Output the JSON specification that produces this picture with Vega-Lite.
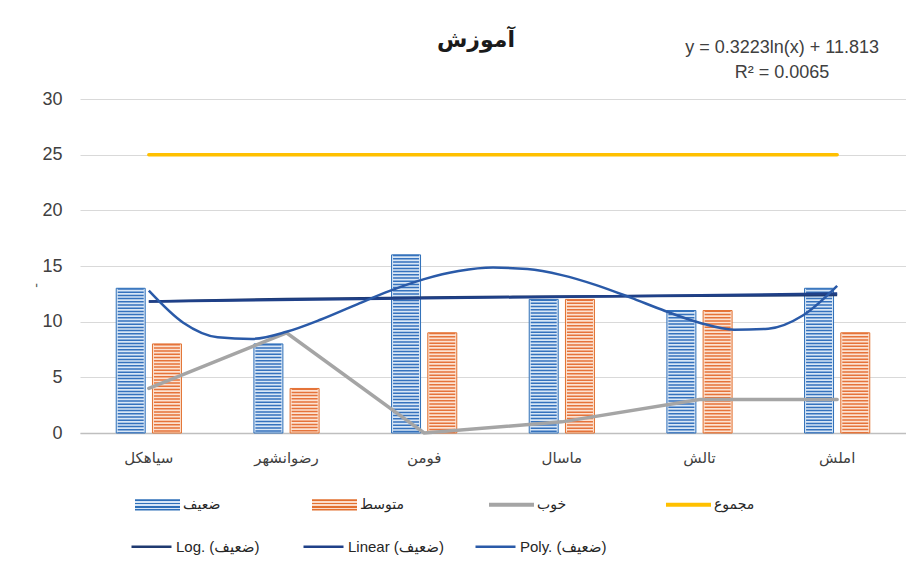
{
  "$schema": "https://vega.github.io/schema/vega-lite/v6.json",
  "width": 826,
  "height": 334,
  "autosize": {"type": "none"},
  "padding": {"left": 80, "top": 99, "right": 0, "bottom": 144},
  "background": "white",
  "title": {"text": "آموزش", "font": "DejaVu Sans", "fontSize": 22, "fontWeight": "bold", "color": "#1a1a1a", "frame": "group", "anchor": "middle", "dx": -17, "offset": -13},
  "config": {
    "view": {"stroke": null},
    "font": "Liberation Sans",
    "axisY": {"grid": true, "gridColor": "#d9d9d9", "gridWidth": 1, "domain": false, "ticks": false, "labelFont": "Liberation Sans", "labelFontSize": 18, "labelColor": "#404040", "labelPadding": 18, "titleFont": "Liberation Sans", "titleFontSize": 14, "titleFontWeight": "normal", "titleColor": "#595959", "titleX": -37, "titleY": 186},
    "axisX": {"grid": false, "domainColor": "#bfbfbf", "domainWidth": 1.5, "ticks": false, "labelFont": "DejaVu Sans", "labelFontSize": 15, "labelColor": "#404040", "labelPadding": 17, "labelAngle": 0}
  },
  "datasets": {
    "main": [
      {"city": "سیاهکل", "series": "ضعیف", "value": 13},
      {"city": "رضوانشهر", "series": "ضعیف", "value": 8},
      {"city": "فومن", "series": "ضعیف", "value": 16},
      {"city": "ماسال", "series": "ضعیف", "value": 12},
      {"city": "تالش", "series": "ضعیف", "value": 11},
      {"city": "املش", "series": "ضعیف", "value": 13},
      {"city": "سیاهکل", "series": "متوسط", "value": 8},
      {"city": "رضوانشهر", "series": "متوسط", "value": 4},
      {"city": "فومن", "series": "متوسط", "value": 9},
      {"city": "ماسال", "series": "متوسط", "value": 12},
      {"city": "تالش", "series": "متوسط", "value": 11},
      {"city": "املش", "series": "متوسط", "value": 9},
      {"city": "سیاهکل", "series": "خوب", "value": 4},
      {"city": "رضوانشهر", "series": "خوب", "value": 9},
      {"city": "فومن", "series": "خوب", "value": 0},
      {"city": "ماسال", "series": "خوب", "value": 1},
      {"city": "تالش", "series": "خوب", "value": 3},
      {"city": "املش", "series": "خوب", "value": 3},
      {"city": "سیاهکل", "series": "مجموع", "value": 25},
      {"city": "رضوانشهر", "series": "مجموع", "value": 25},
      {"city": "فومن", "series": "مجموع", "value": 25},
      {"city": "ماسال", "series": "مجموع", "value": 25},
      {"city": "تالش", "series": "مجموع", "value": 25},
      {"city": "املش", "series": "مجموع", "value": 25}
    ],
    "trend": [
      {"trend": "Log. (ضعیف)", "idx": 1, "val": 11.813},
      {"trend": "Log. (ضعیف)", "idx": 2, "val": 12.036},
      {"trend": "Log. (ضعیف)", "idx": 3, "val": 12.167},
      {"trend": "Log. (ضعیف)", "idx": 4, "val": 12.26},
      {"trend": "Log. (ضعیف)", "idx": 5, "val": 12.332},
      {"trend": "Log. (ضعیف)", "idx": 6, "val": 12.391},
      {"trend": "Linear (ضعیف)", "idx": 1, "val": 11.81},
      {"trend": "Linear (ضعیف)", "idx": 6, "val": 12.52},
      {"trend": "Poly. (ضعیف)", "idx": 1, "val": 12.782},
      {"trend": "Poly. (ضعیف)", "idx": 1.25, "val": 9.902},
      {"trend": "Poly. (ضعیف)", "idx": 1.5, "val": 8.598},
      {"trend": "Poly. (ضعیف)", "idx": 1.75, "val": 8.451},
      {"trend": "Poly. (ضعیف)", "idx": 2, "val": 9.091},
      {"trend": "Poly. (ضعیف)", "idx": 2.25, "val": 10.196},
      {"trend": "Poly. (ضعیف)", "idx": 2.5, "val": 11.493},
      {"trend": "Poly. (ضعیف)", "idx": 2.75, "val": 12.759},
      {"trend": "Poly. (ضعیف)", "idx": 3, "val": 13.817},
      {"trend": "Poly. (ضعیف)", "idx": 3.25, "val": 14.542},
      {"trend": "Poly. (ضعیف)", "idx": 3.5, "val": 14.855},
      {"trend": "Poly. (ضعیف)", "idx": 3.75, "val": 14.729},
      {"trend": "Poly. (ضعیف)", "idx": 4, "val": 14.183},
      {"trend": "Poly. (ضعیف)", "idx": 4.25, "val": 13.286},
      {"trend": "Poly. (ضعیف)", "idx": 4.5, "val": 12.156},
      {"trend": "Poly. (ضعیف)", "idx": 4.75, "val": 10.96},
      {"trend": "Poly. (ضعیف)", "idx": 5, "val": 9.909},
      {"trend": "Poly. (ضعیف)", "idx": 5.25, "val": 9.278},
      {"trend": "Poly. (ضعیف)", "idx": 5.5, "val": 9.369},
      {"trend": "Poly. (ضعیف)", "idx": 5.75, "val": 10.549},
      {"trend": "Poly. (ضعیف)", "idx": 6, "val": 13.218}
    ]
  },
  "layer": [
    {
      "data": {"name": "main"},
      "encoding": {
        "x": {"field": "city", "type": "nominal", "sort": ["سیاهکل", "رضوانشهر", "فومن", "ماسال", "تالش", "املش"], "scale": {"type": "band", "domain": ["سیاهکل", "رضوانشهر", "فومن", "ماسال", "تالش", "املش"], "paddingInner": 0, "paddingOuter": 0}, "axis": {"title": null}}
      },
      "layer": [
        {
          "transform": [{"filter": {"field": "series", "oneOf": ["ضعیف", "متوسط"]}}],
          "mark": {"type": "bar", "strokeWidth": 1},
          "encoding": {
            "xOffset": {"field": "series", "type": "nominal", "scale": {"domain": ["ضعیف", "متوسط"], "paddingInner": 0.2, "paddingOuter": 1.067}},
            "y": {"field": "value", "type": "quantitative", "scale": {"domain": [0, 30]}, "title": "-"},
            "fill": {"condition": {"test": "datum.series === 'ضعیف'", "value": "#d9e7f6"}, "value": "#fce2d2"},
            "stroke": {"condition": {"test": "datum.series === 'ضعیف'", "value": "#2e6fb8"}, "value": "#e2702f"}
          }
        },
        {
          "transform": [{"filter": {"field": "series", "oneOf": ["ضعیف", "متوسط"]}}],
          "mark": {"type": "rule", "strokeWidth": 26, "strokeDash": [1.5, 1.7], "strokeCap": "butt"},
          "encoding": {
            "xOffset": {"field": "series", "type": "nominal", "scale": {"domain": ["ضعیف", "متوسط"], "paddingInner": 0.2, "paddingOuter": 1.067}},
            "y": {"field": "value", "type": "quantitative", "scale": {"domain": [0, 30]}, "title": "-"},
            "y2": {"datum": 0},
            "stroke": {"condition": {"test": "datum.series === 'ضعیف'", "value": "#3572bd"}, "value": "#e5733a"}
          }
        },
        {
          "transform": [{"filter": {"field": "series", "oneOf": ["خوب", "مجموع"]}}],
          "mark": {"type": "line", "strokeWidth": 3.5, "strokeCap": "round"},
          "encoding": {
            "x": {"field": "city", "type": "nominal", "bandPosition": 0.5, "sort": ["سیاهکل", "رضوانشهر", "فومن", "ماسال", "تالش", "املش"], "scale": {"type": "band", "domain": ["سیاهکل", "رضوانشهر", "فومن", "ماسال", "تالش", "املش"], "paddingInner": 0, "paddingOuter": 0}, "axis": {"title": null}},
            "y": {"field": "value", "type": "quantitative", "scale": {"domain": [0, 30]}, "title": "-"},
            "color": {
              "field": "series", "type": "nominal",
              "scale": {"domain": ["ضعیف", "متوسط", "خوب", "مجموع"], "range": ["#3a78c2", "#e8793a", "#a5a5a5", "#ffc000"]},
              "legend": {
                "orient": "none", "legendX": 55, "legendY": 383, "direction": "horizontal", "columns": 4, "gridAlign": "all", "columnPadding": 85,
                "title": null, "symbolSize": 2025, "symbolType": "M-1,-0.25H1V0.25H-1Z",
                "labelFont": "DejaVu Sans", "labelFontSize": 14, "labelColor": "#262626", "labelOffset": 3,
                "encode": {"symbols": {"update": {
                  "shape": {"signal": "datum.value === 'ضعیف' || datum.value === 'متوسط' ? 'M-1,-0.25H1V0.25H-1Z' : 'M-1,-0.09H1V0.09H-1Z'"},
                  "fill": {"signal": "datum.value === 'ضعیف' ? {gradient: 'linear', x1: 0, y1: 0, x2: 0, y2: 1, stops: [{offset: 0, color: '#2e6fb8'}, {offset: 0.13, color: '#2e6fb8'}, {offset: 0.13, color: '#d6e6f6'}, {offset: 0.33, color: '#d6e6f6'}, {offset: 0.33, color: '#2e6fb8'}, {offset: 0.45, color: '#2e6fb8'}, {offset: 0.45, color: '#d6e6f6'}, {offset: 0.64, color: '#d6e6f6'}, {offset: 0.64, color: '#2e6fb8'}, {offset: 0.75, color: '#2e6fb8'}, {offset: 0.75, color: '#d6e6f6'}, {offset: 0.88, color: '#d6e6f6'}, {offset: 0.88, color: '#2e6fb8'}, {offset: 1, color: '#2e6fb8'}]} : datum.value === 'متوسط' ? {gradient: 'linear', x1: 0, y1: 0, x2: 0, y2: 1, stops: [{offset: 0, color: '#e2702f'}, {offset: 0.13, color: '#e2702f'}, {offset: 0.13, color: '#fbdcc9'}, {offset: 0.33, color: '#fbdcc9'}, {offset: 0.33, color: '#e2702f'}, {offset: 0.45, color: '#e2702f'}, {offset: 0.45, color: '#fbdcc9'}, {offset: 0.64, color: '#fbdcc9'}, {offset: 0.64, color: '#e2702f'}, {offset: 0.75, color: '#e2702f'}, {offset: 0.75, color: '#fbdcc9'}, {offset: 0.88, color: '#fbdcc9'}, {offset: 0.88, color: '#e2702f'}, {offset: 1, color: '#e2702f'}]} : scale('color', datum.value)"},
                  "stroke": {"value": "transparent"},
                  "strokeWidth": {"value": 0},
                  "opacity": {"value": 1}
                }}}
              }
            }
          }
        }
      ]
    },
    {
      "layer": [
        {
          "data": {"name": "trend"},
          "mark": {"type": "line", "strokeWidth": 2.5, "interpolate": "monotone"},
          "encoding": {
            "x": {"field": "idx", "type": "quantitative", "scale": {"domain": [0.5, 6.5], "nice": false, "zero": false}, "axis": null},
            "y": {"field": "val", "type": "quantitative", "scale": {"domain": [0, 30]}, "title": "-"},
            "detail": {"field": "trend", "type": "nominal"},
            "stroke": {
              "field": "trend", "type": "nominal",
              "scale": {"domain": ["Log. (ضعیف)", "Linear (ضعیف)", "Poly. (ضعیف)"], "range": ["#1f3a70", "#1f4088", "#2a5aa8"]},
              "legend": {
                "orient": "none", "legendX": 50, "legendY": 426, "direction": "horizontal", "columns": 3, "gridAlign": "all", "columnPadding": 26,
                "title": null, "symbolSize": 1600, "symbolType": "M-1,0H1", "symbolStrokeWidth": 2.5,
                "labelFont": "Liberation Sans, DejaVu Sans", "labelFontSize": 15, "labelColor": "#262626", "labelOffset": 3
              }
            }
          }
        },
        {
          "data": {"values": [{}]},
          "mark": {"type": "text", "text": ["y = 0.3223ln(x) + 11.813", "R² = 0.0065"], "align": "center", "baseline": "middle", "font": "Liberation Sans", "fontSize": 18, "lineHeight": 25, "color": "#404040"},
          "encoding": {
            "x": {"datum": 5.6, "type": "quantitative", "scale": {"domain": [0.5, 6.5], "nice": false, "zero": false}, "axis": null},
            "y": {"datum": 34.55, "type": "quantitative", "scale": {"domain": [0, 30]}, "title": "-"}
          }
        }
      ]
    }
  ],
  "resolve": {"scale": {"x": "independent"}, "axis": {"x": "independent"}}
}
